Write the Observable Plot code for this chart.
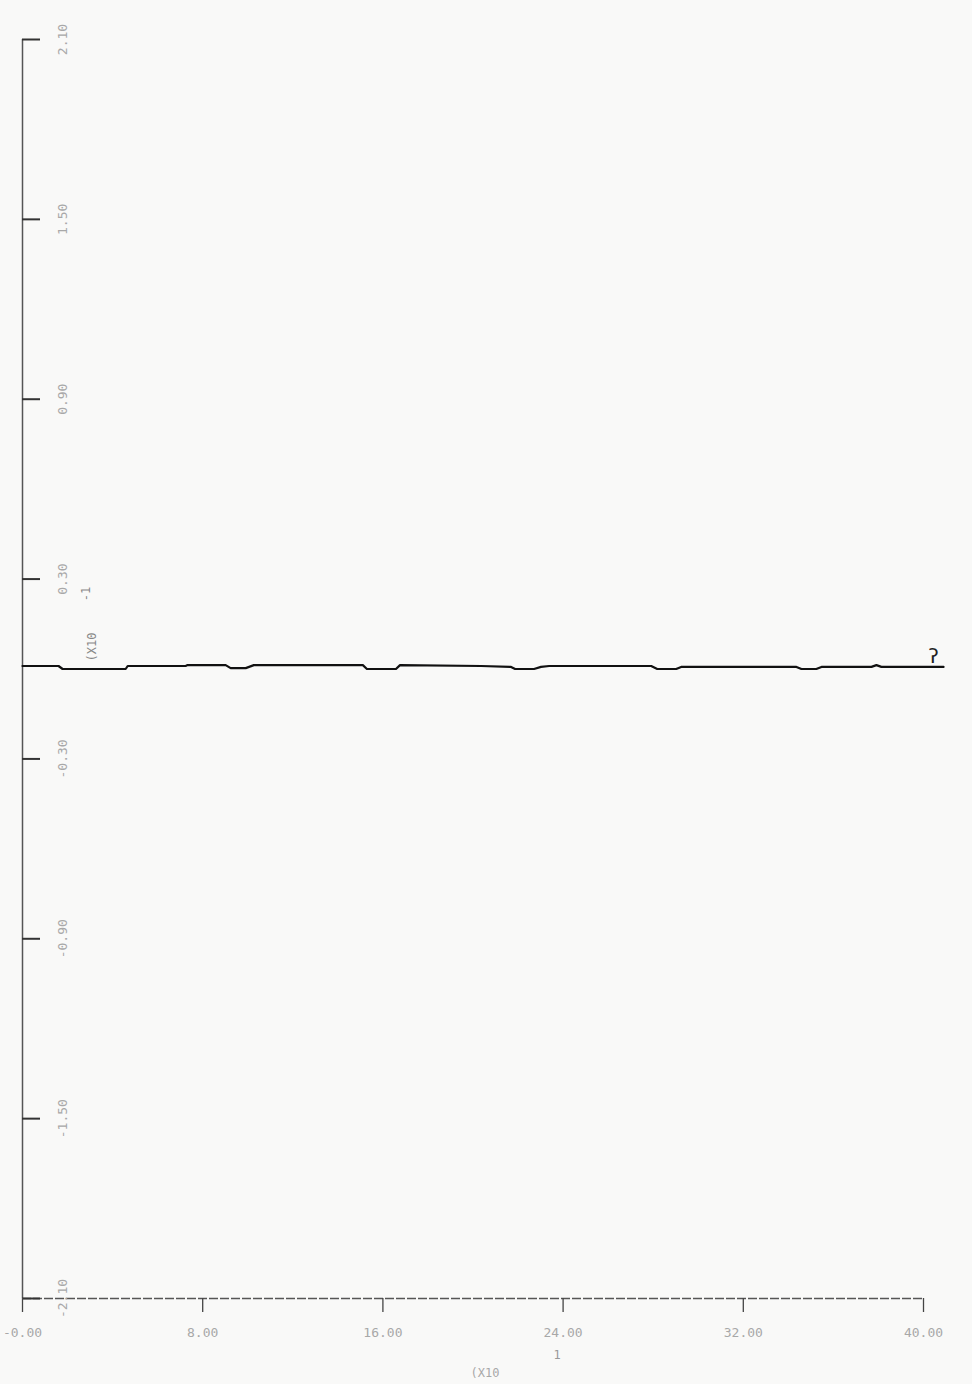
<!DOCTYPE html>
<html>
<head>
<meta charset="utf-8">
<script src="https://cdn.jsdelivr.net/npm/d3@7"></script>
<script src="https://cdn.jsdelivr.net/npm/@observablehq/plot@0.6"></script>
<style>
  html, body { margin: 0; padding: 0; background: #f9f9f8; }
  #chart svg { display: block; background: #f9f9f8; }
</style>
</head>
<body>
<div id="chart"></div>
<script>
// x in units of X10^1, y in units of X10^-1
const xs = [0.0, 1.6, 1.78, 4.58, 4.67, 7.24, 7.33, 9.02, 9.24, 9.91, 10.27, 15.11, 15.29, 16.58, 16.76, 20.36, 21.69, 21.87, 22.71, 23.02, 23.38, 27.91, 28.18, 29.02, 29.24, 34.36, 34.58, 35.24, 35.47, 37.69, 37.91, 38.13, 40.89];
const ys = [0.010, 0.010, 0.0, 0.0, 0.010, 0.010, 0.013, 0.013, 0.003, 0.003, 0.013, 0.013, 0.0, 0.0, 0.013, 0.010, 0.007, 0.0, 0.0, 0.007, 0.010, 0.010, 0.0, 0.0, 0.007, 0.007, 0.0, 0.0, 0.007, 0.007, 0.013, 0.007, 0.007];
const xTicks = [0, 8, 16, 24, 32, 40];
const xTickLabels = ["-0.00", "8.00", "16.00", "24.00", "32.00", "40.00"];
const yTicks = [2.1, 1.5, 0.9, 0.3, -0.3, -0.9, -1.5, -2.1];
const yTickLabels = ["2.10", "1.50", "0.90", "0.30", "-0.30", "-0.90", "-1.50", "-2.10"];

const data = xs.map((x, i) => ({x, y: ys[i]}));
const last = data[data.length - 1];
const labelColor = "#a8a8a8";
const font = "DejaVu Sans Mono";

const chart = Plot.plot({
  width: 972,
  height: 1384,
  marginLeft: 22,
  marginRight: 49,
  marginTop: 39,
  marginBottom: 86,
  style: {background: "#f9f9f8", fontFamily: font},
  x: {domain: [0, 40], axis: null},
  y: {domain: [-2.1, 2.1], axis: null},
  marks: [
    Plot.ruleX([0], {stroke: "#555", strokeWidth: 1.5}),
    Plot.ruleY([-2.1], {stroke: "#555", strokeWidth: 1.5, strokeDasharray: "9,2"}),
    Plot.ruleY(yTicks, {y: d => d, x1: 0, x2: 0.8, stroke: "#333", strokeWidth: 2}),
    Plot.axisX({ticks: xTicks, tickSize: 14, tickFormat: () => "", label: null, stroke: "#444", strokeWidth: 1.3}),
    Plot.text(xTicks, {x: d => d, text: (d, i) => xTickLabels[i], frameAnchor: "bottom", dy: 38, fill: labelColor, fontSize: 13}),
    Plot.text(yTicks, {y: d => d, text: (d, i) => yTickLabels[i], frameAnchor: "left", dx: 40, rotate: -90, textAnchor: "middle", fill: labelColor, fontSize: 13}),
    Plot.text(["(X10"], {frameAnchor: "bottom-left", dx: 448, dy: 78, fill: labelColor, fontSize: 12, textAnchor: "start"}),
    Plot.text(["1"], {frameAnchor: "bottom-left", dx: 531, dy: 60, fill: "#999", fontSize: 12}),
    Plot.text(["(X10"], {frameAnchor: "left", dx: 70, dy: -22, rotate: -90, fill: "#888", fontSize: 12, textAnchor: "middle"}),
    Plot.text(["-1"], {frameAnchor: "left", dx: 64, dy: -75, rotate: -90, fill: "#888", fontSize: 12, textAnchor: "middle"}),
    Plot.line(data, {x: "x", y: "y", stroke: "#111", strokeWidth: 2.2}),
    Plot.text([last], {x: "x", y: "y", text: () => "ʔ", dx: -10, dy: -10, fill: "#222", fontSize: 20, fontFamily: "DejaVu Sans"})
  ]
});
document.getElementById("chart").appendChild(chart);
</script>
</body>
</html>
